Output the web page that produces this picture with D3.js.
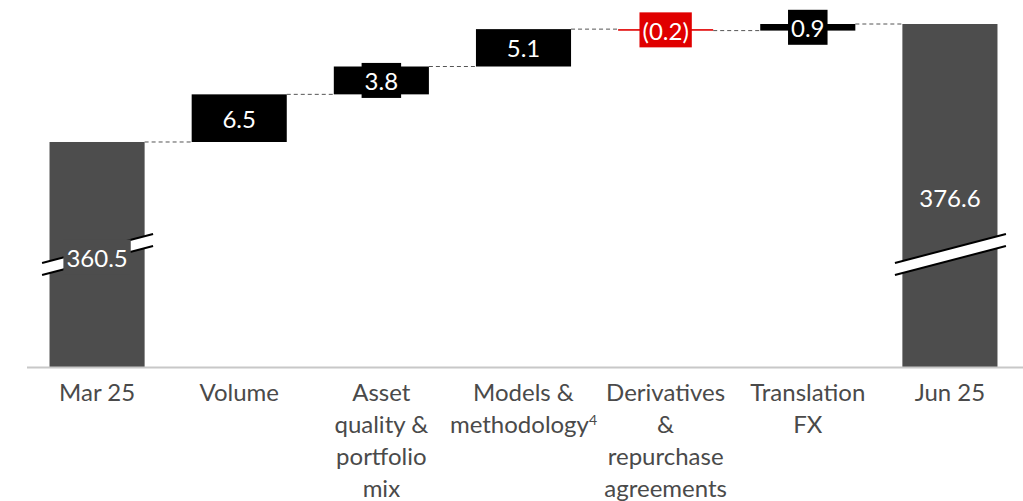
<!DOCTYPE html>
<html><head><meta charset="utf-8">
<script src="https://cdn.jsdelivr.net/npm/d3@7"></script>
<style>
html,body{margin:0;padding:0;background:#fff;}
svg{display:block;}
text{font-family:Lato,"Noto Sans",sans-serif;font-weight:400;}
</style></head>
<body>
<svg id="chart" width="1023" height="501"></svg>
<script>
// ---- data ----
const categories = ["Mar 25","Volume","Asset quality & portfolio mix","Models & methodology","Derivatives & repurchase agreements","Translation FX","Jun 25"];
const categoryLines = [["Mar 25"],["Volume"],["Asset","quality &","portfolio","mix"],["Models &","methodology"],["Derivatives","&","repurchase","agreements"],["Translation","FX"],["Jun 25"]];
const categorySup = ["","","","4","","",""];
const kinds = ["total","delta","delta","delta","delta","delta","total"];
const values = [360.5, 6.5, 3.8, 5.1, -0.2, 0.9, 376.6];
const valueLabels = ["360.5","6.5","3.8","5.1","(0.2)","0.9","376.6"];
const axisBase = 329.8; // hidden part of the broken axis

// ---- build waterfall ----
let run = 0;
const rows = categories.map((c,i)=>{
  let y0,y1;
  if(kinds[i]==="total"){ y0=axisBase; y1=values[i]; run=values[i]; }
  else { y0=run; y1=run+values[i]; run=y1; }
  return {c,i,y0,y1,end:run,v:values[i],kind:kinds[i]};
});

const svg = d3.select("#chart");
const x = d3.scaleBand().domain(categories).range([26,1021]).paddingInner(0.331).paddingOuter(0.1655);
const y = d3.scaleLinear().domain([axisBase, 376.6]).range([367, 24]);

const totalColor="#4d4d4d", posColor="#000000", negColor="#e00000";
const color = d => d.kind==="total"?totalColor:(d.v<0?negColor:posColor);

// connectors
for(let i=0;i<rows.length-1;i++){
  const d=rows[i], n=rows[i+1];
  svg.append("line")
    .attr("x1",x(d.c)+x.bandwidth()).attr("x2",x(n.c))
    .attr("y1",y(d.end)).attr("y2",y(d.end))
    .attr("stroke","#555").attr("stroke-width",1).attr("stroke-dasharray","4,3");
}

// bars
svg.selectAll("rect.bar").data(rows).join("rect").attr("class","bar")
  .attr("x",d=>x(d.c)).attr("width",x.bandwidth())
  .attr("y",d=>Math.min(y(d.y0),y(d.y1)))
  .attr("height",d=>Math.max(1.6,Math.abs(y(d.y0)-y(d.y1))))
  .attr("fill",color);

// axis line
svg.append("line").attr("x1",27).attr("x2",1023).attr("y1",367.5).attr("y2",367.5)
  .attr("stroke","#c8c8c8").attr("stroke-width",2);

// axis breaks on totals
rows.filter(d=>d.kind==="total").forEach(d=>{
  const cx = x(d.c)+x.bandwidth()/2;
  const x0=cx-55, x1=cx+56, yl=263, yr=234, gap=12;
  svg.append("path")
    .attr("d",`M${x0},${yl} L${x1},${yr} L${x1},${yr+gap} L${x0},${yl+gap} Z`)
    .attr("fill","#fff");
  [0,gap].forEach(o=>svg.append("line").attr("x1",x0).attr("y1",yl+o).attr("x2",x1).attr("y2",yr+o)
    .attr("stroke","#000").attr("stroke-width",2));
});

// value labels
const fs = 24;
rows.forEach((d,i)=>{
  const cx = x(d.c)+x.bandwidth()/2;
  let cy;
  if(d.kind==="total") cy = i===0 ? 257 : 197;
  else cy = (y(d.y0)+y(d.y1))/2;
  const t = svg.append("text").attr("x",cx).attr("y",cy+1).attr("dy","0.36em")
    .attr("text-anchor","middle").attr("fill","#fff").attr("font-size",fs).text(valueLabels[i]);
  const bb = t.node().getBBox();
  const needBg = (i===0) || Math.abs(y(d.y0)-y(d.y1)) < 30;
  if(needBg){
    const padX = 3, h = 35;
    svg.insert("rect", ()=>t.node())
      .attr("x",bb.x-padX).attr("width",bb.width+2*padX)
      .attr("y",cy-h/2).attr("height",h)
      .attr("fill",color(d));
  }
});

// category labels
const lh = 32;
rows.forEach((d,i)=>{
  const cx = x(d.c)+x.bandwidth()/2;
  const t = svg.append("text").attr("text-anchor","middle").attr("fill","#4a4a4a").attr("font-size",fs);
  categoryLines[i].forEach((ln,k)=>{
    const ts = t.append("tspan").attr("x",cx).attr("y",401+k*lh).text(ln);
    if(k===categoryLines[i].length-1 && categorySup[i]){
      ts.append("tspan").attr("font-size",14).attr("dy",-8).text(categorySup[i]);
    }
  });
});
</script>
</body></html>
